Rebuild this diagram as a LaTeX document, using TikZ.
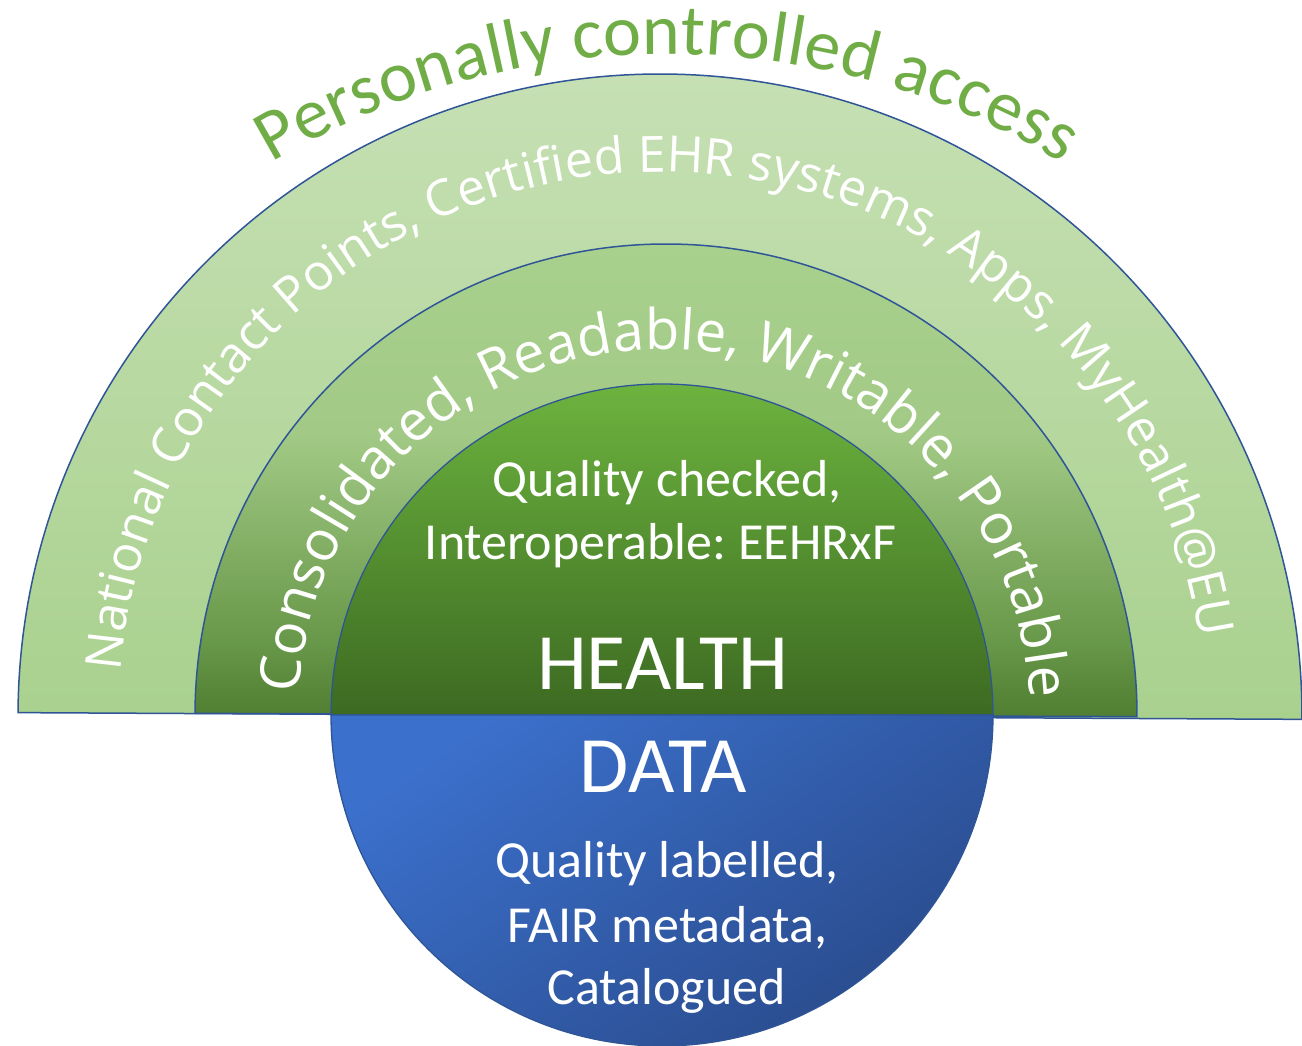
\documentclass[tikz,border=0pt]{standalone}
\usepackage{fontspec}
\setmainfont{Carlito}
\newfontfamily\carl{Carlito}
\newfontfamily\osans{Open Sans}
\usetikzlibrary{decorations.text}
\frenchspacing
\definecolor{edge}{HTML}{2F5597}
\definecolor{otop}{HTML}{C6E0B4}
\definecolor{obot}{HTML}{A9D18E}
\definecolor{mtop}{HTML}{A9D18E}
\definecolor{mqb}{HTML}{A2CA86}
\definecolor{mqa}{HTML}{87B269}
\definecolor{mqz}{HTML}{689849}
\definecolor{mbot}{HTML}{507E32}
\definecolor{gtop}{HTML}{6DB33F}
\definecolor{gmid}{HTML}{548F30}
\definecolor{gbot}{HTML}{3D6A22}
\definecolor{btop}{HTML}{3B70CC}
\definecolor{bbot}{HTML}{2A4B8C}
\definecolor{titlegreen}{HTML}{70AD47}
\pgfdeclareverticalshading{outerband}{100bp}{color(0bp)=(obot); color(25bp)=(obot); color(75bp)=(otop); color(100bp)=(otop)}
\pgfdeclareverticalshading{midband}{100bp}{color(0bp)=(mbot); color(25bp)=(mbot); color(33bp)=(mqz); color(44.5bp)=(mqa); color(55bp)=(mqb); color(75bp)=(mtop); color(100bp)=(mtop)}
\pgfdeclareverticalshading{greenhalf}{100bp}{color(0bp)=(gbot); color(25bp)=(gbot); color(50bp)=(gmid); color(75bp)=(gtop); color(100bp)=(gtop)}
\begin{document}
\begin{tikzpicture}[x=1pt,y=1pt,
  band/.style={draw=edge, line width=1.5pt},
  txtmain/.style={text=white, inner sep=0pt, anchor=base},
  smalltxt/.style={txtmain, font=\carl\fontsize{52}{63}\selectfont},
  bigtxt/.style={txtmain, font=\carl\fontsize{80}{96}\selectfont},
]
\useasboundingbox (0,0) rectangle (1302,1046);
\clip (0,0) rectangle (1302,1046);
\fill[white] (0,0) rectangle (1302,1046);

% outer band
\shadedraw[shading=outerband, band, rotate around={-0.3:(660,330)}]
  (18,330) arc[start angle=180, end angle=0, radius=642] -- cycle;
% middle band
\shadedraw[shading=midband, band, rotate around={-0.2:(666,331)}]
  (195,331) arc[start angle=180, end angle=0, radius=471] -- cycle;
% inner green half
\shadedraw[shading=greenhalf, band, line width=1.3pt]
  (331,331) arc[start angle=180, end angle=0, radius=331] -- cycle;
% inner blue half
\shadedraw[top color=btop, bottom color=bbot, shading angle=35, band, line width=1.3pt]
  (331,331) arc[start angle=180, end angle=360, radius=331] -- cycle;

% title arc text
\path[decorate, decoration={text along path, text align=fit to path, text color=titlegreen,
  text={|\carl\fontsize{72}{80}\selectfont|Personally controlled access}}]
  (667,220) ++(120.8:772) arc[start angle=120.8, end angle=59.2, radius=772];

% outer band text
\path[decorate, decoration={text along path, text align=fit to path, text color=white,
  text={|\osans\fontsize{50}{60}\selectfont|National Contact Points, Certified EHR systems, Apps, MyHealth@EU}}]
  (662,331) ++(175.4:543) arc[start angle=175.4, end angle=8.2, radius=543];

% middle band text
\path[decorate, decoration={text along path, text align=fit to path, text color=white,
  text={|\osans\fontsize{56}{66}\selectfont|Consolidated, Readable, Writable, Portable}}]
  (664,331) ++(176.6:366) arc[start angle=176.6, end angle=3.8, radius=366];

% inner texts
\node[smalltxt] (qc) at (667,549) {Quality checked,};
\node[smalltxt] (io) at (660.5,486) {Interoperable: EEHRxF};
\node[bigtxt] (health) at (662.5,356) {HEALTH};
\node[bigtxt] (data) at (663.5,253) {DATA};
\node[smalltxt] (ql) at (667,168) {Quality labelled,};
\node[smalltxt] (fm) at (667.5,103) {FAIR metadata,};
\node[smalltxt] (cat) at (666.5,41) {Catalogued};
\end{tikzpicture}
\end{document}
